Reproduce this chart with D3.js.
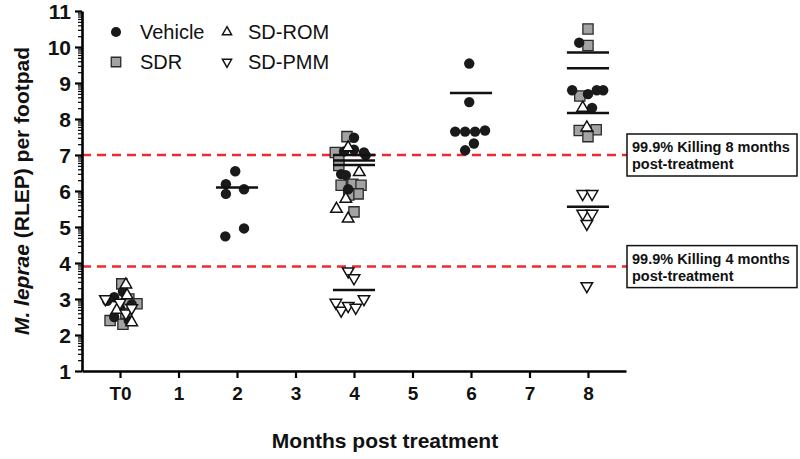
<!DOCTYPE html>
<html><head><meta charset="utf-8">
<script src="https://cdn.jsdelivr.net/npm/d3@7"></script>
<style>body{margin:0;background:#fff}svg{display:block}</style>
</head><body>
<script>
// ---- data ----
const xTickLabels = ["T0","1","2","3","4","5","6","7","8"];
const yTicks = [1,2,3,4,5,6,7,8,9,10,11];
const seriesNames = ["Vehicle","SDR","SD-ROM","SD-PMM"];
// [month index, log10 RLEP value, jitter offset in month units]
const vehicle = [
  [0,2.95,-0.22],[0,3.05,-0.1],[0,3.2,0.05],[0,2.75,0.0],[0,2.4,0.15],[0,2.5,-0.1],[0,2.85,0.2],
  [2,6.55,-0.03],[2,6.19,-0.19],[2,5.92,-0.19],[2,6.05,0.12],[2,4.74,-0.2],[2,4.96,0.12],
  [4,7.48,0.0],[4,7.15,0.0],[4,7.1,-0.17],[4,7.07,0.17],[4,6.99,0.2],[4,6.47,-0.22],[4,6.44,-0.14],[4,6.05,-0.1],
  [6,9.54,-0.03],[6,8.47,-0.03],[6,7.65,-0.27],[6,7.65,-0.1],[6,7.65,0.07],[6,7.68,0.24],[6,7.32,0.05],[6,7.13,-0.1],
  [8,10.12,-0.15],[8,8.80,-0.27],[8,8.69,0.0],[8,8.80,0.15],[8,8.80,0.26],[8,8.31,0.07]
];
const sdr = [
  [0,3.42,0.03],[0,2.87,0.29],[0,2.4,-0.17],[0,2.3,0.05],[0,3.0,0.15],[0,2.6,0.1],
  [4,7.51,-0.12],[4,7.07,-0.32],[4,6.85,-0.26],[4,6.71,-0.26],[4,6.16,-0.22],[4,6.19,-0.02],[4,6.16,0.12],[4,5.92,0.07],[4,5.89,-0.09],[4,5.42,0.0],
  [8,10.5,0.0],[8,10.04,0.0],[8,8.64,-0.14],[8,7.68,-0.15],[8,7.70,0.14],[8,7.51,0.0]
];
const sdRom = [
  [0,3.4,0.1],[0,3.1,0.12],[0,2.35,0.2],[0,2.7,-0.05],
  [4,7.21,-0.1],[4,6.52,0.09],[4,5.78,-0.14],[4,5.5,-0.3],[4,5.23,-0.1],
  [8,8.31,-0.09],[8,7.76,-0.02]
];
const sdPmm = [
  [0,3.0,-0.25],[0,2.9,0.0],[0,2.6,0.1],[0,2.75,0.2],
  [4,3.77,-0.1],[4,3.58,0.0],[4,2.90,-0.31],[4,2.68,-0.22],[4,2.81,-0.1],[4,2.76,0.03],[4,3.0,0.17],
  [8,5.92,-0.09],[8,5.92,0.07],[8,5.37,-0.09],[8,5.37,0.07],[8,5.09,-0.02],[8,3.36,-0.02]
];
// central tendency lines [month index, value]
const centerLines = [[2,6.1],[4,7.0],[4,6.85],[4,6.72],[4,3.25],[6,8.72],[8,9.85],[8,9.41],[8,8.17],[8,5.56]];
const thresholds = [7.0, 3.9];
const thresholdLabels = [["99.9% Killing 8 months","post-treatment"],["99.9% Killing 4 months","post-treatment"]];

// ---- chart ----
const W = 800, H = 459;
const svg = d3.select("body").append("svg").attr("width", W).attr("height", H);
const font = "'Liberation Sans', Arial, Helvetica, sans-serif";
const x = d3.scaleLinear().domain([-0.65, 8.65]).range([82, 626]);
const y = d3.scaleLinear().domain([1, 11]).range([371, 11]);

// threshold lines + boxes
thresholds.forEach((t, i) => {
  svg.append("line").attr("x1", x(-0.65)).attr("x2", 627).attr("y1", y(t)).attr("y2", y(t))
    .attr("stroke", "#ee2a2f").attr("stroke-width", 2.5).attr("stroke-dasharray", "9,6");
  const by = y(t) - 21;
  svg.append("rect").attr("x", 627).attr("y", by).attr("width", 170).attr("height", 42)
    .attr("fill", "#fff").attr("stroke", "#111").attr("stroke-width", 1.5);
  thresholdLabels[i].forEach((s, j) => {
    svg.append("text").attr("x", 632).attr("y", by + 18 + j * 17).text(s)
      .attr("font-family", font).attr("font-weight", "bold").attr("font-size", 14.5).attr("fill", "#111");
  });
});

// axes
const yAxis = svg.append("g").attr("transform", `translate(${x(-0.65)},0)`)
  .call(d3.axisLeft(y).tickValues(yTicks).tickSize(7).tickSizeOuter(0).tickFormat(d3.format("d")));
const minor = [];
for (let k = 1; k < 11; k++) for (let m = 2; m <= 9; m++) minor.push(k + Math.log10(m));
svg.append("g").attr("transform", `translate(${x(-0.65)},0)`)
  .call(d3.axisLeft(y).tickValues(minor).tickSize(4).tickFormat(""))
  .call(g => g.select(".domain").remove())
  .selectAll("line").attr("stroke-width", 1.2);
yAxis.select(".domain").attr("stroke-width", 2.6);
yAxis.selectAll(".tick line").attr("stroke-width", 2.2);
yAxis.selectAll("text").attr("font-family", font).attr("font-weight", "bold").attr("font-size", 21).attr("fill", "#111").attr("dx", -1).attr("dy", "0.36em");

const xAxis = svg.append("g").attr("transform", `translate(0,${y(1)})`)
  .call(d3.axisBottom(x).tickValues(d3.range(9)).tickSize(7).tickSizeOuter(0).tickFormat(i => xTickLabels[i]));
xAxis.select(".domain").attr("stroke-width", 2.6);
xAxis.selectAll(".tick line").attr("stroke-width", 2.2);
xAxis.selectAll("text").attr("font-family", font).attr("font-weight", "bold").attr("font-size", 19).attr("fill", "#111").attr("dy", "1.0em");

// axis titles
const yt = svg.append("text").attr("transform", `translate(29,${(y(11)+y(1))/2}) rotate(-90)`)
  .attr("text-anchor", "middle").attr("font-family", font).attr("font-weight", "bold").attr("font-size", 21).attr("fill", "#111");
yt.append("tspan").attr("font-style", "italic").text("M. leprae");
yt.append("tspan").text(" (RLEP) per footpad");
svg.append("text").attr("x", 385).attr("y", 448).attr("text-anchor", "middle")
  .attr("font-family", font).attr("font-weight", "bold").attr("font-size", 21).attr("fill", "#111")
  .text("Months post treatment");

// marks
const symCircle = d3.symbol().type(d3.symbolCircle).size(85)();
const symSquare = d3.symbol().type(d3.symbolSquare).size(105)();
const symTri = d3.symbol().type(d3.symbolTriangle).size(58)();
const styles = {
  "SDR": {path: symSquare, fill: "#a3a3a6", stroke: "#2a2a2a", sw: 1.3, rot: 0},
  "Vehicle": {path: symCircle, fill: "#1a1a1a", stroke: "none", sw: 0, rot: 0},
  "SD-ROM": {path: symTri, fill: "#fff", stroke: "#111", sw: 1.5, rot: 0},
  "SD-PMM": {path: symTri, fill: "#fff", stroke: "#111", sw: 1.5, rot: 180}
};
const drawSeries = (data, name) => {
  const s = styles[name];
  svg.append("g").selectAll("path").data(data).join("path")
    .attr("d", s.path)
    .attr("transform", d => `translate(${x(d[0] + d[2])},${y(d[1])}) rotate(${s.rot})`)
    .attr("fill", s.fill).attr("stroke", s.stroke).attr("stroke-width", s.sw);
};
drawSeries(sdr, "SDR");
drawSeries(vehicle, "Vehicle");
drawSeries(sdRom, "SD-ROM");
drawSeries(sdPmm, "SD-PMM");

// center lines
svg.append("g").selectAll("line").data(centerLines).join("line")
  .attr("x1", d => x(d[0] - 0.36)).attr("x2", d => x(d[0] + 0.36))
  .attr("y1", d => y(d[1])).attr("y2", d => y(d[1]))
  .attr("stroke", "#111").attr("stroke-width", 2.5);

// legend
const legendPos = [[116,32],[116,62],[227,32],[227,62]];
const legSym = {
  "Vehicle": d3.symbol().type(d3.symbolCircle).size(80)(),
  "SDR": d3.symbol().type(d3.symbolSquare).size(90)(),
  "SD-ROM": d3.symbol().type(d3.symbolTriangle).size(36)(),
  "SD-PMM": d3.symbol().type(d3.symbolTriangle).size(36)()
};
seriesNames.forEach((n, i) => {
  const s = styles[n];
  const [lx, ly] = legendPos[i];
  svg.append("path").attr("d", legSym[n]).attr("transform", `translate(${lx},${ly}) rotate(${s.rot})`)
    .attr("fill", s.fill).attr("stroke", s.stroke).attr("stroke-width", s.sw);
  svg.append("text").attr("x", lx + (i < 2 ? 24 : 21)).attr("y", ly + 7).text(n)
    .attr("font-family", font).attr("font-size", 20).attr("fill", "#111");
});
</script>
</body></html>
